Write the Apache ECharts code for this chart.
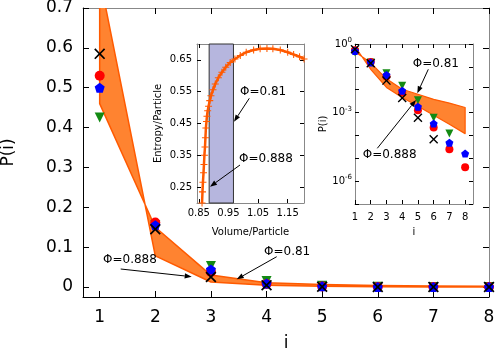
<!DOCTYPE html>
<html><head><meta charset="utf-8">
<script src="https://cdn.jsdelivr.net/npm/echarts@6/dist/echarts.min.js"></script>
<style>html,body{margin:0;padding:0;background:#fff}#c{width:498px;height:351px}</style>
</head><body><div id="c"></div>
<script>
// ---------- data ----------
const clusterSize = [1, 2, 3, 4, 5, 6, 7, 8];
const pCross    = [0.585, 0.145, 0.025, 0.0043, 0.0006, 0.000068, 0, 0];
const pRed      = [0.53, 0.162, 0.038, 0.0075, 0.00126, 0.00022, 0.000025, 0.0000041];
const pBlue     = [0.50, 0.155, 0.044, 0.009, 0.0018, 0.00033, 0.000048, 0.000016];
const pGreen    = [0.425, 0.155, 0.053, 0.015, 0.0035, 0.0006, 0.00012, 0];
const bandPhi081  = [0.46, 0.15, 0.03, 0.0105, 0.0063, 0.0038, 0.0026, 0.00166];
const bandPhi0888 = [0.777, 0.078, 0.0126, 0.0046, 0.0019, 0.00076, 0.00031, 0.00012];
const volume  = [0.861, 0.8625, 0.864, 0.866, 0.8675, 0.869, 0.871, 0.8725, 0.874, 0.876, 0.8776, 0.880, 0.883, 0.887, 0.891, 0.898, 0.9056, 0.916, 0.928, 0.941, 0.956, 0.972, 0.99, 1.01, 1.035, 1.057, 1.08, 1.10, 1.125, 1.15, 1.17, 1.19, 1.205];
const entropy = [0.20, 0.235, 0.265, 0.295, 0.321, 0.35, 0.376, 0.405, 0.436, 0.456, 0.473, 0.49, 0.504, 0.522, 0.537, 0.556, 0.574, 0.594, 0.611, 0.627, 0.642, 0.653, 0.664, 0.674, 0.681, 0.685, 0.686, 0.685, 0.681, 0.674, 0.667, 0.66, 0.653];
const shadeVolume = [0.885, 0.967];
const mainXTicks = [1, 2, 3, 4, 5, 6, 7, 8];
const mainYTicks = [0, 0.1, 0.2, 0.3, 0.4, 0.5, 0.6, 0.7];
const insetXTicks = [0.85, 0.95, 1.05, 1.15];
const insetYTicks = [0.25, 0.35, 0.45, 0.55, 0.65];

// ---------- styles ----------
const FONT = 'DejaVu Sans';
const ORANGE_FILL = '#ff8330';
const ORANGE_LINE = '#ff5a00';
const SYM_PENT = 'path://M0,-1 L0.951,-0.309 L0.588,0.809 L-0.588,0.809 L-0.951,-0.309 Z';
const SYM_TRI = 'path://M-1,-0.75 L1,-0.75 L0,0.95 Z';
const SYM_X = 'path://M-1,-0.78 L-0.78,-1 L0,-0.22 L0.78,-1 L1,-0.78 L0.22,0 L1,0.78 L0.78,1 L0,0.22 L-0.78,1 L-1,0.78 L-0.22,0 Z';
const SYM_PLUS = 'path://M-0.15,-1 L0.15,-1 L0.15,-0.15 L1,-0.15 L1,0.15 L0.15,0.15 L0.15,1 L-0.15,1 L-0.15,0.15 L-1,0.15 L-1,-0.15 L-0.15,-0.15 Z';

const pairs = (arr, logSafe) => clusterSize.map((c, i) => [c, (logSafe && !(arr[i] > 0)) ? '-' : arr[i]]);

function bandSeries(xi, yi, lw, z) {
  return {
    type: 'custom', xAxisIndex: xi, yAxisIndex: yi, clip: true, z: z,
    data: [[clusterSize[0], bandPhi081[0]]],
    renderItem: function (params, api) {
      const pts = [];
      for (let i = 0; i < clusterSize.length; i++) pts.push(api.coord([clusterSize[i], bandPhi081[i]]));
      for (let i = clusterSize.length - 1; i >= 0; i--) pts.push(api.coord([clusterSize[i], bandPhi0888[i]]));
      const cs = params.coordSys;
      return {
        type: 'polygon', shape: { points: pts },
        style: { fill: ORANGE_FILL, stroke: ORANGE_LINE, lineWidth: lw, lineJoin: 'round' },
        clipPath: { type: 'rect', shape: { x: cs.x, y: cs.y, width: cs.width, height: cs.height } }
      };
    }
  };
}

function shadeSeries() {
  return {
    type: 'custom', xAxisIndex: 2, yAxisIndex: 2, z: 8,
    data: [[shadeVolume[0], 0.2, shadeVolume[1], 0.7]],
    renderItem: function (params, api) {
      const p0 = api.coord([api.value(0), api.value(3)]);
      const p1 = api.coord([api.value(2), api.value(1)]);
      return {
        type: 'rect', shape: { x: p0[0], y: p0[1], width: p1[0] - p0[0], height: p1[1] - p0[1] },
        style: { fill: '#b6b6de', stroke: '#333', lineWidth: 1 }
      };
    }
  };
}

function markerSeries(xi, yi, arr, logSafe, sym, color, size, z) {
  return {
    type: 'scatter', xAxisIndex: xi, yAxisIndex: yi, data: pairs(arr, logSafe),
    symbol: sym, symbolSize: size, itemStyle: { color: color, opacity: 1 }, z: z, silent: true
  };
}

function arrow(x1, y1, x2, y2) {
  const a = Math.atan2(y2 - y1, x2 - x1), L = 7, W = 2.6;
  const bx = x2 - L * Math.cos(a), by = y2 - L * Math.sin(a);
  const px = -Math.sin(a) * W, py = Math.cos(a) * W;
  return [
    { type: 'line', shape: { x1: x1, y1: y1, x2: bx, y2: by }, style: { stroke: '#000', lineWidth: 1 }, z: 50 },
    { type: 'polygon', shape: { points: [[x2, y2], [bx + px, by + py], [bx - px, by - py]] }, style: { fill: '#000' }, z: 50 }
  ];
}
function label(x, y, t) {
  return { type: 'text', x: x, y: y, z: 50, style: { text: t, font: '12px "DejaVu Sans"', fill: '#000', textVerticalAlign: 'middle' } };
}

const tick = (len, vals) => Object.assign({ inside: true, length: len, lineStyle: { color: '#000' } }, vals ? { customValues: vals } : {});
const line = (color) => ({ show: true, onZero: false, lineStyle: { color: color, width: 1 } });
const axisBase = (extra) => Object.assign({ splitLine: { show: false } }, extra);

const option = {
  animation: false,
  backgroundColor: '#fff',
  textStyle: { fontFamily: FONT },
  grid: [
    { left: 83, top: 8, right: 9, bottom: 54, show: false, containLabel: false, outerBoundsMode: 'none' },
    { left: 197, top: 44, width: 107, height: 159, show: true, backgroundColor: '#fff', borderWidth: 0, containLabel: false, outerBoundsMode: 'none' },
    { left: 355, top: 44, width: 118, height: 160, show: true, backgroundColor: '#fff', borderWidth: 0, containLabel: false, outerBoundsMode: 'none' }
  ],
  xAxis: [
    axisBase({ type: 'value', gridIndex: 0, min: 0.7, max: 8, name: 'i', nameLocation: 'middle', nameGap: 38,
      nameTextStyle: { fontSize: 17, fontFamily: FONT, color: '#000' },
      axisLine: line('#000'), axisTick: tick(6, mainXTicks),
      axisLabel: { customValues: mainXTicks, fontSize: 17, color: '#000', margin: 12, fontFamily: FONT } }),
    axisBase({ type: 'value', gridIndex: 0, position: 'top', min: 0.7, max: 8,
      axisLine: line('#888'), axisTick: tick(6, mainXTicks), axisLabel: { show: false } }),
    axisBase({ type: 'value', gridIndex: 1, min: 0.844, max: 1.205, name: 'Volume/Particle', nameLocation: 'middle', nameGap: 24,
      nameTextStyle: { fontSize: 10, fontFamily: FONT, color: '#000' },
      axisLine: line('#888'), axisTick: tick(4, insetXTicks),
      axisLabel: { customValues: insetXTicks, fontSize: 10, color: '#000', margin: 5, fontFamily: FONT } }),
    axisBase({ type: 'value', gridIndex: 1, position: 'top', min: 0.844, max: 1.205,
      axisLine: line('#888'), axisTick: tick(4, insetXTicks), axisLabel: { show: false } }),
    axisBase({ type: 'value', gridIndex: 2, min: 1, max: 8.5, name: 'i', nameLocation: 'middle', nameGap: 23,
      nameTextStyle: { fontSize: 10, fontFamily: FONT, color: '#000' },
      axisLine: line('#888'), axisTick: tick(4, mainXTicks),
      axisLabel: { customValues: mainXTicks, fontSize: 10, color: '#000', margin: 8, fontFamily: FONT } }),
    axisBase({ type: 'value', gridIndex: 2, position: 'top', min: 1, max: 8.5,
      axisLine: line('#888'), axisTick: tick(4, mainXTicks), axisLabel: { show: false } })
  ],
  yAxis: [
    axisBase({ type: 'value', gridIndex: 0, min: -0.025, max: 0.7, name: 'P(i)', nameLocation: 'middle', nameGap: 66,
      nameTextStyle: { fontSize: 17, fontFamily: FONT, color: '#000' },
      axisLine: line('#000'), axisTick: tick(6, mainYTicks),
      axisLabel: { customValues: mainYTicks, fontSize: 17, color: '#000', margin: 10, fontFamily: FONT } }),
    axisBase({ type: 'value', gridIndex: 0, position: 'right', min: -0.025, max: 0.7,
      axisLine: line('#888'), axisTick: tick(6, mainYTicks), axisLabel: { show: false } }),
    axisBase({ type: 'value', gridIndex: 1, min: 0.2, max: 0.7, name: 'Entropy/Particle', nameLocation: 'middle', nameGap: 34,
      nameTextStyle: { fontSize: 10, fontFamily: FONT, color: '#000' },
      axisLine: line('#888'), axisTick: tick(4, insetYTicks),
      axisLabel: { customValues: insetYTicks, fontSize: 10, color: '#000', margin: 5, fontFamily: FONT } }),
    axisBase({ type: 'value', gridIndex: 1, position: 'right', min: 0.2, max: 0.7,
      axisLine: line('#888'), axisTick: tick(4, insetYTicks), axisLabel: { show: false } }),
    axisBase({ type: 'log', logBase: 10, gridIndex: 2, min: 1e-7, max: 1, splitNumber: 7, name: 'P(i)', nameLocation: 'middle', nameGap: 26,
      nameTextStyle: { fontSize: 10, fontFamily: FONT, color: '#000' },
      axisLine: line('#888'), axisTick: tick(4),
      axisLabel: { fontSize: 10, color: '#000', margin: 3, fontFamily: FONT,
        formatter: function (v) { const e = Math.round(Math.log10(v)); if (e % 3 !== 0) return ''; return '10{s|' + e + '}'; },
        rich: { s: { fontSize: 7, fontFamily: FONT, color: '#000', padding: [0, 0, 7, 0] } } } }),
    axisBase({ type: 'log', logBase: 10, gridIndex: 2, position: 'right', min: 1e-7, max: 1, splitNumber: 7,
      axisLine: line('#888'), axisTick: tick(4), axisLabel: { show: false } })
  ],
  series: [
    bandSeries(0, 0, 1.5, 1),
    markerSeries(0, 0, pGreen, false, SYM_TRI, '#138a13', 10, 3),
    markerSeries(0, 0, pRed, false, 'circle', '#ff0000', 10, 4),
    markerSeries(0, 0, pBlue, false, SYM_PENT, '#0000ff', 10, 5),
    markerSeries(0, 0, pCross, false, SYM_X, '#000000', 11, 6),
    bandSeries(4, 4, 1.2, 10),
    markerSeries(4, 4, pGreen, true, SYM_TRI, '#138a13', 8, 11),
    markerSeries(4, 4, pRed, true, 'circle', '#ff0000', 8, 12),
    markerSeries(4, 4, pBlue, true, SYM_PENT, '#0000ff', 8, 13),
    markerSeries(4, 4, pCross, true, SYM_X, '#000000', 9, 14),
    shadeSeries(),
    {
      type: 'line', xAxisIndex: 2, yAxisIndex: 2, z: 10,
      data: volume.map((v, i) => [v, entropy[i]]),
      symbol: SYM_PLUS, symbolSize: 7, showSymbol: true, clip: true,
      lineStyle: { color: ORANGE_LINE, width: 2.5 }, itemStyle: { color: ORANGE_LINE }
    }
  ],
  graphic: [].concat(
    [label(103, 260, 'Φ=0.888')], arrow(120.7, 269, 191.7, 276.7),
    [label(264, 252, 'Φ=0.81')], arrow(276.7, 256.7, 236.7, 279.3),
    [label(240, 92, 'Φ=0.81')], arrow(249.3, 98.3, 234, 121.7),
    [label(239, 159, 'Φ=0.888')], arrow(240, 165, 210, 186.7),
    [label(412.7, 63.5, 'Φ=0.81')], arrow(428.3, 69.3, 417.3, 93.3),
    [label(362.7, 154.5, 'Φ=0.888')], arrow(377.3, 148.3, 416, 100)
  )
};
const chart = echarts.init(document.getElementById('c'), null, { renderer: 'canvas' });
chart.setOption(option);
</script>
</body></html>
